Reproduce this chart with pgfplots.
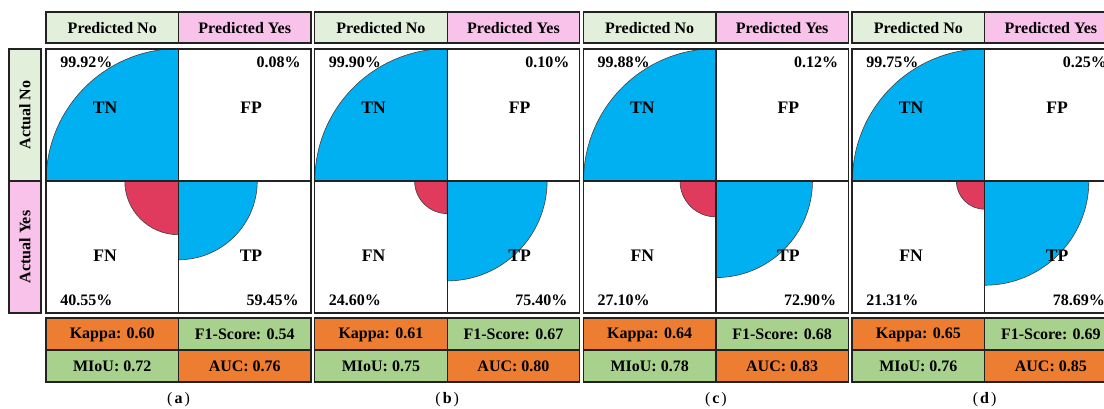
\documentclass[border=0pt]{standalone}
\usepackage{pgfplots}
\pgfplotsset{compat=1.18}
\usepackage{fontspec}
\setmainfont{Liberation Serif}
\definecolor{lgreen}{HTML}{E2EFDA}
\definecolor{lpink}{HTML}{F9C2EB}
\definecolor{cblue}{HTML}{00B0F0}
\definecolor{cred}{HTML}{E03A5C}
\definecolor{morange}{HTML}{ED7D31}
\definecolor{mgreen}{HTML}{A9D18E}
\definecolor{bord}{HTML}{222222}
\newcommand{\mfont}{\fontsize{12}{14}\selectfont\bfseries}
\newcommand{\lfont}{\fontsize{13.2}{16}\selectfont\bfseries}
% metrics boxes: #1 x0, #2 kappa, #3 f1, #4 miou, #5 auc
\newcommand{\metrics}[5]{%
  \filldraw[fill=morange, draw=bord, line width=1pt] (axis cs:#1,318) rectangle (axis cs:{#1+132.5},350);
  \filldraw[fill=mgreen, draw=bord, line width=1pt] (axis cs:{#1+132.5},318) rectangle (axis cs:{#1+265},350);
  \filldraw[fill=mgreen, draw=bord, line width=1pt] (axis cs:#1,350) rectangle (axis cs:{#1+132.5},382);
  \filldraw[fill=morange, draw=bord, line width=1pt] (axis cs:{#1+132.5},350) rectangle (axis cs:{#1+265},382);
  \node[font=\mfont] at (axis cs:{#1+66.25},334.5) {Kappa: #2};
  \node[font=\mfont] at (axis cs:{#1+198.75},334.5) {F1-Score: #3};
  \node[font=\mfont] at (axis cs:{#1+66.25},366.5) {MIoU: #4};
  \node[font=\mfont] at (axis cs:{#1+198.75},366.5) {AUC: #5};
}
% panel: #1 x0, #2 label, #3 TN, #4 FP, #5 FN, #6 TP, #7 metrics
\newcommand{\panel}[7]{%
  \filldraw[fill=lgreen, draw=bord, line width=1pt] (axis cs:#1,12) rectangle (axis cs:{#1+132.5},43);
  \filldraw[fill=lpink, draw=bord, line width=1pt] (axis cs:{#1+132.5},12) rectangle (axis cs:{#1+265},43);
  \node[font=\mfont] at (axis cs:{#1+66.25},28) {Predicted No};
  \node[font=\mfont] at (axis cs:{#1+198.75},28) {Predicted Yes};
  \fill[white] (axis cs:#1,49) rectangle (axis cs:{#1+265},313);
  \filldraw[fill=cblue, draw=black!75, line width=0.45pt] (axis cs:{#1+132.5},181) -- ++(180:{#3*0.99375pt}) arc[start angle=180, end angle=90, radius={#3*0.99375pt}] -- cycle;
  \filldraw[fill=cred, draw=black!75, line width=0.45pt] (axis cs:{#1+132.5},181) -- ++(0:{#4*0.99375pt}) arc[start angle=0, end angle=90, radius={#4*0.99375pt}] -- cycle;
  \filldraw[fill=cred, draw=black!75, line width=0.45pt] (axis cs:{#1+132.5},181) -- ++(180:{#5*0.99375pt}) arc[start angle=180, end angle=270, radius={#5*0.99375pt}] -- cycle;
  \filldraw[fill=cblue, draw=black!75, line width=0.45pt] (axis cs:{#1+132.5},181) -- ++(270:{#6*0.99375pt}) arc[start angle=270, end angle=360, radius={#6*0.99375pt}] -- cycle;
  \draw[bord, line width=1pt] (axis cs:#1,49) rectangle (axis cs:{#1+265},313);
  \draw[bord, line width=1pt] (axis cs:{#1+132.5},49) -- (axis cs:{#1+132.5},313);
  \draw[bord, line width=1pt] (axis cs:#1,181) -- (axis cs:{#1+265},181);
  \node[font=\mfont, anchor=west, inner sep=0pt] at (axis cs:{#1+14},62.5) {#3\%};
  \node[font=\mfont, anchor=east, inner sep=0pt] at (axis cs:{#1+255},62.5) {#4\%};
  \node[font=\mfont, anchor=west, inner sep=0pt] at (axis cs:{#1+14},300) {#5\%};
  \node[font=\mfont, anchor=east, inner sep=0pt] at (axis cs:{#1+253},300) {#6\%};
  \node[font=\lfont] at (axis cs:{#1+59},108) {TN};
  \node[font=\lfont] at (axis cs:{#1+205},108) {FP};
  \node[font=\lfont] at (axis cs:{#1+59},256) {FN};
  \node[font=\lfont] at (axis cs:{#1+205},256) {TP};
  \metrics{#1}#7
  \node[font=\fontsize{12}{14}\selectfont] at (axis cs:{#1+132.5},400) {(\hspace{1.5pt}\textbf{#2}\hspace{1.5pt})};
}
\begin{document}
\begin{tikzpicture}
\useasboundingbox (0,0) rectangle (828pt,306.75pt);
\clip (0,0) rectangle (828pt,306.75pt);
\begin{axis}[
  scale only axis, width=828pt, height=306.75pt,
  xmin=0, xmax=1104, ymin=0, ymax=409, y dir=reverse,
  hide axis, clip=false]
\addplot[draw=none, forget plot] coordinates {(0,0) (1104,409)};
% row labels
\filldraw[fill=lgreen, draw=bord, line width=1pt] (axis cs:9,49) rectangle (axis cs:41,181);
\filldraw[fill=lpink, draw=bord, line width=1pt] (axis cs:9,181) rectangle (axis cs:41,313);
\node[font=\mfont, rotate=90] at (axis cs:25,115) {Actual No};
\node[font=\mfont, rotate=90] at (axis cs:25,247) {Actual Yes};
\panel{46}{a}{99.92}{0.08}{40.55}{59.45}{{0.60}{0.54}{0.72}{0.76}}
\panel{314.7}{b}{99.90}{0.10}{24.60}{75.40}{{0.61}{0.67}{0.75}{0.80}}
\panel{583.4}{c}{99.88}{0.12}{27.10}{72.90}{{0.64}{0.68}{0.78}{0.83}}
\panel{852.1}{d}{99.75}{0.25}{21.31}{78.69}{{0.65}{0.69}{0.76}{0.85}}
\end{axis}
\end{tikzpicture}
\end{document}
